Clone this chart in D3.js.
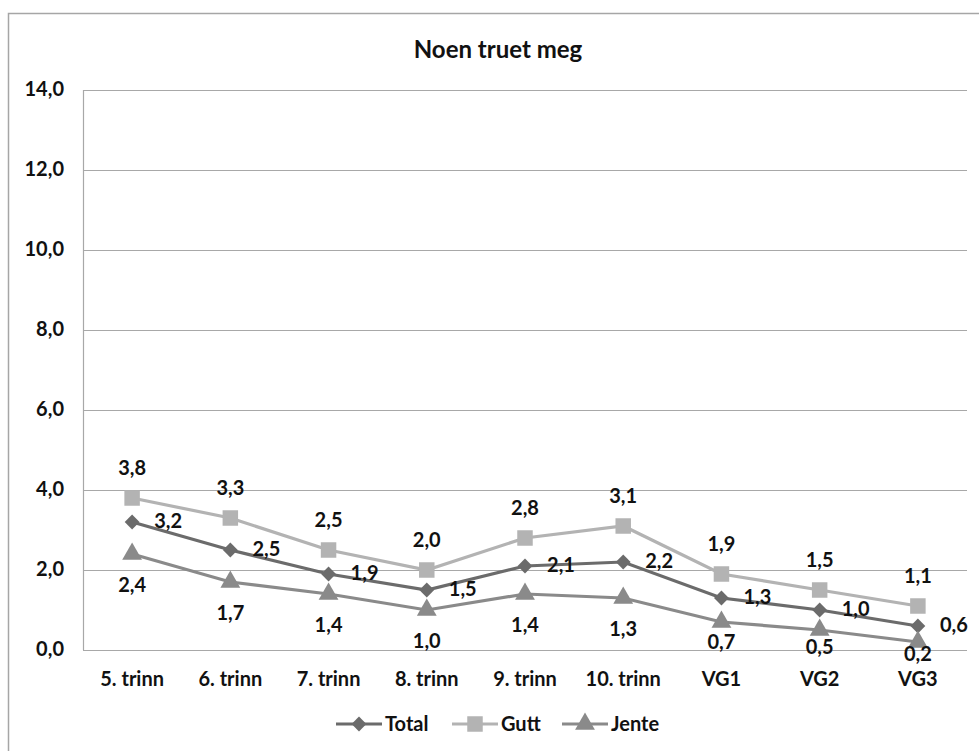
<!DOCTYPE html>
<html>
<head>
<meta charset="utf-8">
<script src="https://cdn.jsdelivr.net/npm/d3@7"></script>
<style>
  body { margin: 0; background: #fff; }
  text { font-family: Lato, "Open Sans", sans-serif; font-weight: bold; fill: #111; }
</style>
</head>
<body>
<div id="chart"></div>
<script>
(function() {
  var width = 979,
      height = 751;

  // data
  var categories = ["5. trinn", "6. trinn", "7. trinn", "8. trinn", "9. trinn", "10. trinn", "VG1", "VG2", "VG3"];
  var total = [3.2, 2.5, 1.9, 1.5, 2.1, 2.2, 1.3, 1.0, 0.6];
  var gutt  = [3.8, 3.3, 2.5, 2.0, 2.8, 3.1, 1.9, 1.5, 1.1];
  var jente = [2.4, 1.7, 1.4, 1.0, 1.4, 1.3, 0.7, 0.5, 0.2];
  var yTicks = [0, 2, 4, 6, 8, 10, 12, 14];

  // jente labels get squeezed up near the axis (like excel does)
  var jenteLabelDy = [31, 31, 31, 31, 31, 31, 20, 17, 12];

  var series = [
    {name: "Total", values: total, color: "#6b6b6b", symbol: d3.symbolSquare, rot: 45, size: 110, labelDx: 36, labelDy: -1},
    {name: "Gutt", values: gutt, color: "#b3b3b3", symbol: d3.symbolSquare, rot: 0, size: 240, labelDx: 0, labelDy: -30},
    {name: "Jente", values: jente, color: "#8a8a8a", symbol: d3.symbolTriangle, rot: 0, size: 170, labelDx: 0, labelDy: jenteLabelDy}
  ];

  var margin = {top: 90, left: 83, right: 12, bottom: 101};

  var svg = d3.select("#chart")
    .append("svg")
    .attr("width", width)
    .attr("height", height);

  // chart border
  svg.append("rect")
    .attr("x", 8.5)
    .attr("y", 13.5)
    .attr("width", 1000)
    .attr("height", 800)
    .attr("fill", "none")
    .attr("stroke", "#a6a6a6")
    .attr("stroke-width", 1.5);

  svg.append("text")
    .attr("x", 498)
    .attr("y", 58)
    .attr("text-anchor", "middle")
    .style("font-size", "24px")
    .text("Noen truet meg");

  var x = d3.scaleBand()
    .domain(categories)
    .range([margin.left, width - margin.right]);

  var y = d3.scaleLinear()
    .domain([0, 14])
    .range([height - margin.bottom, margin.top]);

  // gridlines
  svg.append("g")
    .selectAll("line")
    .data(yTicks)
    .enter().append("line")
    .attr("x1", margin.left)
    .attr("x2", width - margin.right)
    .attr("y1", function(d) { return Math.round(y(d)) + 0.5; })
    .attr("y2", function(d) { return Math.round(y(d)) + 0.5; })
    .attr("stroke", "#a8a8a8")
    .attr("stroke-width", 1.2);

  svg.append("line")
    .attr("x1", margin.left + 0.5)
    .attr("x2", margin.left + 0.5)
    .attr("y1", y(14))
    .attr("y2", y(0))
    .attr("stroke", "#a8a8a8")
    .attr("stroke-width", 1.2);

  var fmt = function(v) { return d3.format(".1f")(v).replace(".", ","); };

  svg.append("g")
    .selectAll("text")
    .data(yTicks)
    .enter().append("text")
    .attr("x", 64)
    .attr("y", function(d) { return y(d) + 6; })
    .attr("text-anchor", "end")
    .style("font-size", "20px")
    .text(fmt);

  svg.append("g")
    .selectAll("text")
    .data(categories)
    .enter().append("text")
    .attr("x", function(d) { return x(d) + x.bandwidth() / 2; })
    .attr("y", 686)
    .attr("text-anchor", "middle")
    .style("font-size", "20px")
    .text(function(d) { return d; });

  var line = d3.line()
    .x(function(d, i) { return x(categories[i]) + x.bandwidth() / 2; })
    .y(function(d) { return y(d); });

  // draw order: Gutt, Total, Jente
  [series[1], series[0], series[2]].forEach(function(s) {
    var g = svg.append("g");
    g.append("path")
      .attr("d", line(s.values))
      .attr("fill", "none")
      .attr("stroke", s.color)
      .attr("stroke-width", 3.2);
    g.selectAll(".pt")
      .data(s.values)
      .enter().append("path")
      .attr("class", "pt")
      .attr("transform", function(d, i) {
        return "translate(" + (x(categories[i]) + x.bandwidth() / 2) + "," + y(d) + ") rotate(" + s.rot + ")";
      })
      .attr("d", d3.symbol().type(s.symbol).size(s.size))
      .attr("fill", s.color);
  });

  series.forEach(function(s) {
    svg.append("g")
      .selectAll("text")
      .data(s.values)
      .enter().append("text")
      .attr("x", function(d, i) { return x(categories[i]) + x.bandwidth() / 2 + s.labelDx; })
      .attr("y", function(d, i) {
        var dy = Array.isArray(s.labelDy) ? s.labelDy[i] : s.labelDy;
        return y(d) + dy + 7;
      })
      .attr("text-anchor", "middle")
      .style("font-size", "20px")
      .text(fmt);
  });

  // legend
  var legendX = [336, 452, 562];
  var legend = svg.append("g")
    .selectAll("g")
    .data(series)
    .enter().append("g")
    .attr("transform", function(d, i) { return "translate(" + legendX[i] + ",724)"; });

  legend.append("line")
    .attr("x1", 0)
    .attr("x2", 46)
    .attr("stroke", function(d) { return d.color; })
    .attr("stroke-width", 3.2);
  legend.append("path")
    .attr("transform", function(d) { return "translate(23,0) rotate(" + d.rot + ")"; })
    .attr("d", function(d) { return d3.symbol().type(d.symbol).size(d.size)(); })
    .attr("fill", function(d) { return d.color; });
  legend.append("text")
    .attr("x", 49)
    .attr("y", 7)
    .style("font-size", "20px")
    .text(function(d) { return d.name; });
})();
</script>
</body>
</html>
